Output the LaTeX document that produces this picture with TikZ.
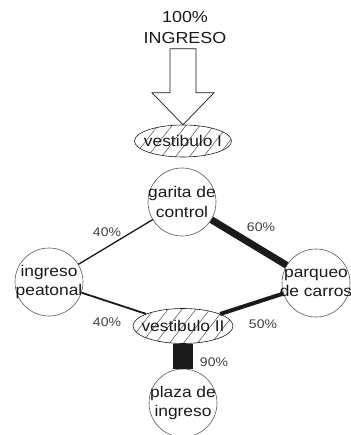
\documentclass[tikz,border=0pt]{standalone}
\usepackage{fontspec}
\setmainfont[FakeStretch=1.12]{Liberation Sans}
\usetikzlibrary{shapes.geometric,patterns.meta,calc}
\definecolor{ink}{HTML}{1A1A1A}
\definecolor{rim}{HTML}{555555}
\tikzset{
  txt/.style={font=\fontsize{15.5}{19.5}\selectfont,align=center,text=ink,inner sep=0pt},
  pct/.style={font=\fontsize{12.5}{14}\selectfont,text=black!75,inner sep=0pt},
  stn/.style={circle,draw=rim,line width=0.6pt,minimum size=68pt,inner sep=0pt},
  vst/.style={ellipse,draw=ink,line width=0.6pt,inner sep=0pt,
    pattern={Lines[angle=52,distance=11pt,line width=0.5pt]},pattern color=black!70},
  flow/.style={draw=ink,line cap=butt},
}
\begin{document}
\begin{tikzpicture}[x=1pt,y=-1pt]
\useasboundingbox (0,0) rectangle (350,435);
% entrance
\node[txt,font=\fontsize{16}{21}\selectfont] (titulo) at (185,27) {100\%\\INGRESO};
\node[vst,minimum width=97pt,minimum height=32pt,label={[txt]center:vestibulo I}] (vestI) at (183,141) {};
\draw[draw=ink,line width=0.7pt,fill=white]
  ($(vestI.north)+(-13,-76)$) -- ($(vestI.north)+(13,-76)$) -- ($(vestI.north)+(13,-32)$)
  -- ($(vestI.north)+(31,-32)$) -- (vestI.north) -- ($(vestI.north)+(-31,-32)$)
  -- ($(vestI.north)+(-13,-32)$) -- cycle;
% stations
\node[stn,label={[txt]center:garita de\\control}] (garita) at (182,202) {};
\node[stn,label={[txt]center:ingreso\\peatonal}] (peatonal) at (49,282) {};
\node[stn,label={[txt]center:parqueo\\de carros}] (parqueo) at (316,283) {};
\node[vst,minimum width=100pt,minimum height=35pt,label={[txt]center:vestibulo II}] (vestII) at (183,326) {};
\node[stn,label={[txt]center:plaza de\\ingreso}] (plaza) at (183,403) {};
% flows
\draw[flow,line width=1.3pt] (garita) -- (peatonal);
\draw[flow,line width=7pt] (garita) -- (parqueo);
\draw[flow,line width=1.8pt] (peatonal) -- (vestII);
\draw[flow,line width=4pt] (vestII) -- (parqueo);
\draw[flow,line width=20pt] (vestII) -- (plaza);
% percentages
\node[pct] (p1) at (107,232) {40\%};
\node[pct] (p2) at (261,227) {60\%};
\node[pct] (p3) at (107,322) {40\%};
\node[pct] (p4) at (263,324) {50\%};
\node[pct] (p5) at (214,362) {90\%};
\end{tikzpicture}
\end{document}
